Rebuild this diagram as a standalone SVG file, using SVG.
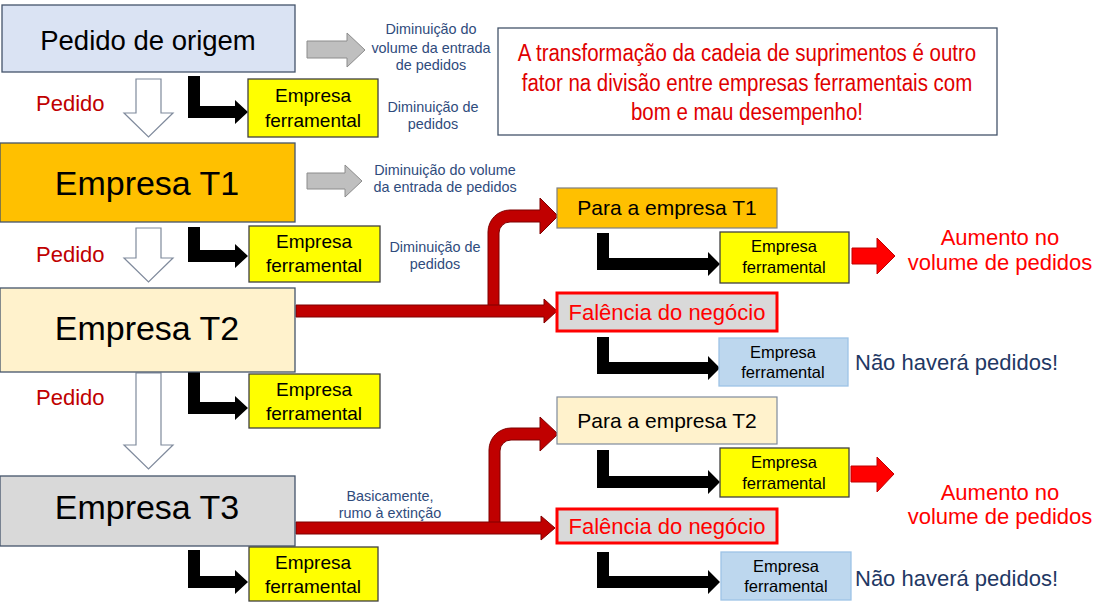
<svg xmlns="http://www.w3.org/2000/svg" width="1106" height="607" viewBox="0 0 1106 607">
<defs>
<style>
text{font-family:"Liberation Sans",Arial,sans-serif}
.big{font-size:34px;fill:#000;text-anchor:middle}
.ped{font-size:22px;fill:#c00000}
.box{stroke:#44546a;stroke-width:1.3}
.yel{fill:#ffff00;stroke:#404040;stroke-width:1.3}
.blu{fill:#bdd7ee;stroke:#9dc3e6;stroke-width:1.3}
.ef{font-size:19px;fill:#000;text-anchor:middle}
.efs{font-size:16.5px;fill:#000;text-anchor:middle}
.sm{font-size:14.4px;fill:#2f4b7c;text-anchor:middle}
.mid{font-size:21px;text-anchor:middle;fill:#000}
.fal{fill:#d9d9d9;stroke:#ff0000;stroke-width:3}
.falt{font-size:22px;fill:#ff0000;text-anchor:middle}
.aum{font-size:22px;fill:#ff0000;text-anchor:middle}
.nao{font-size:22px;fill:#1f3864}
.cal{font-size:23px;fill:#e00000;text-anchor:middle}
.wa{fill:#fff;stroke:#7f8a9c;stroke-width:1.2}
.ga{fill:#bfbfbf;stroke:#8c8c8c;stroke-width:1}
.ka{fill:#000}
.ra{fill:#c00000;stroke:#7f0000;stroke-width:1}
.rr{fill:#ff0000;stroke:#c00000;stroke-width:1}
</style>
</defs>
<rect width="1106" height="607" fill="#fff"/>

<g id="connectors">
  <path class="wa" d="M136,79 L161,79 L161,113 L173,113 L148.5,137 L124,113 L136,113 Z"/>
  <path class="wa" d="M136,228 L161,228 L161,258 L173,258 L148.5,282 L124,258 L136,258 Z"/>
  <path class="wa" d="M136,373 L161,373 L161,445 L173,445 L148.5,469 L124,445 L136,445 Z"/>
  <path class="ga" d="M307,41 L347,41 L347,33 L365,50 L347,67 L347,58 L307,58 Z"/>
  <path class="ga" d="M307,173 L345,173 L345,165 L362,181 L345,197 L345,189 L307,189 Z"/>
  <path class="ka" d="M188,76 L200,76 L200,106 L235,106 L235,100 L248,112 L235,124 L235,118 L188,118 Z"/>
  <path class="ka" d="M188,227 L200,227 L200,250 L235,250 L235,244 L248,256 L235,268 L235,262 L188,262 Z"/>
  <path class="ka" d="M188,370 L200,370 L200,402 L235,402 L235,396 L248,408 L235,420 L235,414 L188,414 Z"/>
  <path class="ka" d="M188,550 L200,550 L200,576 L235,576 L235,570 L248,582 L235,594 L235,588 L188,588 Z"/>
  <path class="ka" d="M597,233 L609,233 L609,258 L708,258 L708,252 L720,264 L708,276 L708,270 L597,270 Z"/>
  <path class="ka" d="M597,337 L609,337 L609,362 L708,362 L708,356 L720,368 L708,380 L708,374 L597,374 Z"/>
  <path class="ka" d="M597,450 L609,450 L609,476 L708,476 L708,470 L720,482 L708,494 L708,488 L597,488 Z"/>
  <path class="ka" d="M597,552 L609,552 L609,576 L708,576 L708,570 L720,582 L708,594 L708,588 L597,588 Z"/>
  <path class="ra" d="M488,311 L488,232 A22,22 0 0 1 510,210 L540,210 L540,198 L558,216 L540,234 L540,222 L510,222 A11,11 0 0 0 499,233 L499,311 Z"/>
  <path class="ra" d="M296,305 L544,305 L544,299 L557,311 L544,323 L544,317 L296,317 Z"/>
  <path class="ra" d="M489,528 L489,450 A22,22 0 0 1 511,428 L540,428 L540,417 L558,434 L540,451 L540,440 L511,440 A11,11 0 0 0 500,451 L500,528 Z"/>
  <path class="ra" d="M296,522 L541,522 L541,516 L555,528 L541,540 L541,534 L296,534 Z"/>
  <path class="rr" d="M852,248 L877,248 L877,238 L895,256 L877,274 L877,264 L852,264 Z"/>
  <path class="rr" d="M851,466 L877,466 L877,457 L894,474 L877,492 L877,482 L851,482 Z"/>
</g>

<g id="pedido-origem">
  <rect class="box" x="2" y="5" width="293" height="67" fill="#dae3f3"/>
  <text x="148" y="50" style="font-size:27.5px;text-anchor:middle">Pedido de origem</text>
</g>
<g id="empresa-t1">
  <rect class="box" x="0" y="143" width="295" height="79" fill="#ffc000"/>
  <text class="big" x="147" y="195">Empresa T1</text>
</g>
<g id="empresa-t2">
  <rect class="box" x="0" y="288" width="295" height="84" fill="#fff2cc"/>
  <text class="big" x="147" y="340">Empresa T2</text>
</g>
<g id="empresa-t3">
  <rect class="box" x="0" y="476" width="295" height="70" fill="#d9d9d9"/>
  <text class="big" x="147" y="519">Empresa T3</text>
</g>

<g id="labels-pedido">
  <text class="ped" x="36" y="111">Pedido</text>
  <text class="ped" x="36" y="262">Pedido</text>
  <text class="ped" x="36" y="405">Pedido</text>
</g>

<g id="ferr-1">
  <rect class="yel" x="248" y="79" width="130" height="58"/>
  <text class="ef" x="313" y="102">Empresa</text>
  <text class="ef" x="313" y="127">ferramental</text>
</g>
<g id="ferr-2">
  <rect class="yel" x="249" y="226" width="131" height="56"/>
  <text class="ef" x="314" y="248">Empresa</text>
  <text class="ef" x="314" y="272">ferramental</text>
</g>
<g id="ferr-3">
  <rect class="yel" x="249" y="374" width="131" height="54"/>
  <text class="ef" x="314" y="396">Empresa</text>
  <text class="ef" x="314" y="420">ferramental</text>
</g>
<g id="ferr-4">
  <rect class="yel" x="249" y="547" width="129" height="54"/>
  <text class="ef" x="313" y="569">Empresa</text>
  <text class="ef" x="313" y="593">ferramental</text>
</g>

<g id="notes-left">
  <text class="sm" x="431" y="34">Diminuição do</text>
  <text class="sm" x="431" y="53">volume da entrada</text>
  <text class="sm" x="431" y="70">de pedidos</text>
  <text class="sm" x="433" y="112">Diminuição de</text>
  <text class="sm" x="433" y="129">pedidos</text>
  <text class="sm" x="445" y="175">Diminuição do volume</text>
  <text class="sm" x="445" y="192">da entrada de pedidos</text>
  <text class="sm" x="435" y="252">Diminuição de</text>
  <text class="sm" x="435" y="269">pedidos</text>
  <text class="sm" x="390" y="501">Basicamente,</text>
  <text class="sm" x="390" y="518">rumo à extinção</text>
</g>

<g id="callout">
  <rect x="498" y="28" width="499" height="107" fill="#fff" stroke="#44546a" stroke-width="1.3"/>
  <g transform="translate(747,0) scale(0.89,1)">
    <text class="cal" x="0" y="61">A transformação da cadeia de suprimentos é outro</text>
    <text class="cal" x="0" y="91">fator na divisão entre empresas ferramentais com</text>
    <text class="cal" x="0" y="120">bom e mau desempenho!</text>
  </g>
</g>

<g id="para-t1">
  <rect x="557" y="188" width="220" height="40" fill="#ffc000" stroke="#7f7f7f" stroke-width="1.2"/>
  <text class="mid" x="667" y="215">Para a empresa T1</text>
</g>
<g id="falencia-1">
  <rect class="fal" x="557" y="293" width="220" height="38"/>
  <text class="falt" x="667" y="320">Falência do negócio</text>
</g>
<g id="para-t2">
  <rect x="557" y="397" width="220" height="47" fill="#fff2cc" stroke="#7f8a9c" stroke-width="1.2"/>
  <text class="mid" x="667" y="428">Para a empresa T2</text>
</g>
<g id="falencia-2">
  <rect class="fal" x="557" y="509" width="220" height="34"/>
  <text class="falt" x="667" y="534">Falência do negócio</text>
</g>

<g id="ferr-5">
  <rect class="yel" x="720" y="232" width="129" height="51"/>
  <text class="efs" x="784" y="252">Empresa</text>
  <text class="efs" x="784" y="273">ferramental</text>
</g>
<g id="ferr-6">
  <rect class="blu" x="719" y="338" width="129" height="48"/>
  <text class="efs" x="783" y="358">Empresa</text>
  <text class="efs" x="783" y="378">ferramental</text>
</g>
<g id="ferr-7">
  <rect class="yel" x="720" y="448" width="129" height="49"/>
  <text class="efs" x="784" y="468">Empresa</text>
  <text class="efs" x="784" y="489">ferramental</text>
</g>
<g id="ferr-8">
  <rect class="blu" x="721" y="552" width="130" height="48"/>
  <text class="efs" x="786" y="572">Empresa</text>
  <text class="efs" x="786" y="592">ferramental</text>
</g>

<g id="results">
  <text class="aum" x="1000" y="245">Aumento no</text>
  <text class="aum" x="1000" y="270">volume de pedidos</text>
  <text class="nao" x="855" y="370">Não haverá pedidos!</text>
  <text class="aum" x="1000" y="500">Aumento no</text>
  <text class="aum" x="1000" y="524">volume de pedidos</text>
  <text class="nao" x="855" y="586">Não haverá pedidos!</text>
</g>
</svg>
